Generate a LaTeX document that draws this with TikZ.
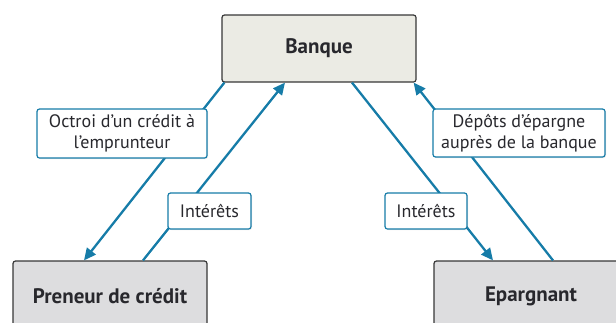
\documentclass[tikz,border=0pt]{standalone}
\usepackage{fontspec}
\setmainfont{PT Sans}
\usetikzlibrary{arrows.meta,shadows}
\definecolor{flow}{RGB}{22,124,168}
\definecolor{bankfill}{RGB}{235,235,228}
\definecolor{agentfill}{RGB}{221,221,223}
\definecolor{edgegrey}{RGB}{55,55,55}
\definecolor{txt}{RGB}{40,40,45}
\begin{document}
\begin{tikzpicture}[x=1pt,y=-1pt,
  actor/.style={draw=edgegrey,line width=1.2pt,rounded corners=2.5pt,minimum width=194pt,
    font=\fontsize{21}{24}\selectfont\bfseries,text=txt,inner sep=0pt},
  flowlabel/.style={draw=flow,line width=1.2pt,fill=white,rounded corners=2.5pt,align=center,
    font=\fontsize{18}{21.5}\selectfont,text=txt,inner sep=0pt,
    drop shadow={opacity=0.2,shadow xshift=1pt,shadow yshift=-1pt}},
  flowline/.style={draw=flow,line width=2.3pt},
  flowarrow/.style={flowline,-{Triangle[length=12pt,width=11pt]}}]
\useasboundingbox (0,0) rectangle (616,322);
\node[actor,fill=bankfill,minimum height=67pt] (bank) at (319,48.5) {Banque};
\node[actor,fill=agentfill,minimum height=70pt] (pren) at (110,296) {Preneur de crédit};
\node[actor,fill=agentfill,minimum height=70pt] (epar) at (531,296) {Epargnant};
\draw[flowarrow] ([xshift=3]bank.south west) -- ([xshift=-26]pren.north);
\draw[flowarrow] ([xshift=33]pren.north) -- ([xshift=-34]bank.south);
\draw[flowarrow] ([xshift=33]bank.south) -- ([xshift=-38]epar.north);
\draw[flowarrow] ([xshift=22]epar.north) -- ([xshift=-3]bank.south east);
\node[flowlabel,minimum width=170pt,minimum height=49pt] (octroi) at (122,133.5) {Octroi d’un crédit à\\l’emprunteur};
\node[flowlabel,minimum width=172pt,minimum height=48pt] (depots) at (519,133) {Dépôts d’épargne\\auprès de la banque};
\node[flowlabel,minimum width=83pt,minimum height=36pt] (intl) at (209.5,211) {Intérêts};
\node[flowlabel,minimum width=82pt,minimum height=36pt] (intr) at (426,211) {Intérêts};
\end{tikzpicture}
\end{document}
